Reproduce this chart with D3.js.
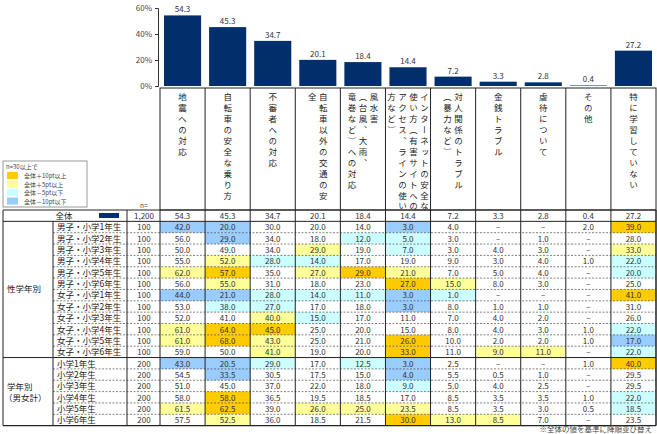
<!DOCTYPE html>
<html><head><meta charset="utf-8">
<script src="https://cdn.jsdelivr.net/npm/d3@7"></script>
<style>body{margin:0;background:#fff}text{font-family:"Noto Sans CJK JP",sans-serif;}</style>
</head><body><svg id="c" width="657" height="434"></svg>
<script>
const headers=[["地震への対応"],["自転車の安全な乗り方"],["不審者への対応"],["自転車以外の交通の安","全"],["風水害","（台風、大雨、","竜巻など）への対応"],["インターネットの安全な","使い方（有害サイトへの","アクセス、ラインの使い","方など）"],["対人関係のトラブル","（暴力など）"],["金銭トラブル"],["虐待について"],["その他"],["特に学習していない"]];
const total=[54.3,45.3,34.7,20.1,18.4,14.4,7.2,3.3,2.8,0.4,27.2];
const rowLabels=["男子・小学1年生","男子・小学2年生","男子・小学3年生","男子・小学4年生","男子・小学5年生","男子・小学6年生","女子・小学1年生","女子・小学2年生","女子・小学3年生","女子・小学4年生","女子・小学5年生","女子・小学6年生","小学1年生","小学2年生","小学3年生","小学4年生","小学5年生","小学6年生"];
const rowN=[100,100,100,100,100,100,100,100,100,100,100,100,200,200,200,200,200,200];
const N=null;
const rows=[
[42,20,30,20,14,3,4,N,N,2,39],
[56,29,34,18,12,5,3,N,1,N,28],
[50,49,34,29,19,7,3,4,3,N,33],
[55,52,28,14,17,19,9,3,4,1,22],
[62,57,35,27,29,21,7,5,4,N,20],
[56,55,31,18,23,27,15,8,3,N,25],
[44,21,28,14,11,3,1,N,N,N,41],
[53,38,27,17,18,3,8,1,1,N,31],
[52,41,40,15,17,11,7,4,2,N,26],
[61,64,45,25,20,15,8,4,3,1,22],
[61,68,43,25,21,26,10,2,2,1,17],
[59,50,41,19,20,33,11,9,11,N,22],
[43,20.5,29,17,12.5,3,2.5,N,N,1,40],
[54.5,33.5,30.5,17.5,15,4,5.5,0.5,1,N,29.5],
[51,45,37,22,18,9,5,4,2.5,N,29.5],
[58,58,36.5,19.5,18.5,17,8.5,3.5,3.5,1,22],
[61.5,62.5,39,26,25,23.5,8.5,3.5,3,0.5,18.5],
[57.5,52.5,36,18.5,21.5,30,13,8.5,7,N,23.5]];
const yTicks=[0,20,40,60];
const legend=["全体＋10pt以上","全体＋5pt以上","全体－5pt以下","全体－10pt以下"];
const legCol=["#ffcc00","#ffff99","#ccffff","#99ccff"];

const svg=d3.select("#c");
const x0=160,x1=656;
const x=d3.scaleBand().domain(d3.range(11)).range([x0,x1]);
const y=d3.scaleLinear().domain([0,60]).range([86,8]);
const ax=svg.append("g").attr("transform","translate(158,0)").call(d3.axisLeft(y).tickValues(yTicks).tickFormat(d=>d+"%").tickSize(3));
ax.selectAll("text").attr("font-size",8).attr("fill","#444").attr("font-family","Arial,Liberation Sans");
ax.select(".domain").attr("stroke","#333");ax.selectAll("line").attr("stroke","#333");
svg.selectAll("rect.bar").data(total).join("rect").attr("x",(d,i)=>x(i)+4).attr("width",x.bandwidth()-8)
 .attr("y",d=>y(d)).attr("height",d=>y(0)-y(d)).attr("fill","#002f6c");
svg.selectAll("text.bl").data(total).join("text").attr("x",(d,i)=>x(i)+x.bandwidth()/2).attr("y",d=>y(d)-3)
 .attr("text-anchor","middle").attr("font-size",8).attr("fill","#333").attr("font-family","Arial,Liberation Sans").text(d=>d.toFixed(1));
const hTop=88,hBot=210;
svg.append("rect").attr("x",x0).attr("y",hTop).attr("width",x1-x0).attr("height",hBot-hTop).attr("fill","none").attr("stroke","#222");
d3.range(1,11).forEach(i=>svg.append("line").attr("x1",x(i)).attr("x2",x(i)).attr("y1",hTop).attr("y2",hBot).attr("stroke","#222"));
headers.forEach((lines,i)=>{
  const n=lines.length,cx=x(i)+x.bandwidth()/2;
  lines.forEach((t,j)=>{
    const xx=cx+((n-1)/2-j)*11;
    svg.append("text").attr("x",xx).attr("y",hTop+5).attr("font-size",8.5).attr("fill","#222")
      .style("writing-mode","vertical-rl").style("letter-spacing","2.4px").text(t);
  });
});
svg.append("rect").attr("x",3).attr("y",161).attr("width",84).attr("height",46).attr("fill","#fff").attr("stroke","#999");
svg.append("text").attr("x",6).attr("y",169).attr("font-size",6).attr("fill","#444").text("n=30以上で");
legend.forEach((t,i)=>{
  svg.append("rect").attr("x",7).attr("y",172+i*8.5).attr("width",11).attr("height",7).attr("fill",legCol[i]);
  svg.append("text").attr("x",24).attr("y",178+i*8.5).attr("font-size",6).attr("fill","#444").text(t);
});
svg.append("text").attr("x",140).attr("y",208).attr("font-size",6.5).attr("fill","#444").text("n=");
const tTop=210,rh=11.35;
const ry=i=>tTop+rh*(i+1);
const f=v=>v==null?"–":v.toFixed(1);
function col(v,t){ if(v==null) return null; const d=v-t; if(d>=10) return legCol[0]; if(d>=5) return legCol[1]; if(d<=-10) return legCol[3]; if(d<=-5) return legCol[2]; return null;}
const fnt="Arial,Liberation Sans";
svg.append("text").attr("x",64).attr("y",tTop+9).attr("font-size",8.5).attr("fill","#222").attr("text-anchor","middle").text("全体");
svg.append("rect").attr("x",99).attr("y",tTop+3).attr("width",20).attr("height",5).attr("fill","#002f6c");
svg.append("text").attr("x",144).attr("y",tTop+9).attr("font-size",8).attr("fill","#333").attr("text-anchor","middle").attr("font-family",fnt).text("1,200");
total.forEach((v,i)=>svg.append("text").attr("x",x(i)+x.bandwidth()/2).attr("y",tTop+9).attr("font-size",8).attr("fill","#333").attr("text-anchor","middle").attr("font-family",fnt).text(v.toFixed(1)));
rows.forEach((r,ri)=>{
  const yy=ry(ri);
  r.forEach((v,i)=>{const c=col(v,total[i]); if(c) svg.append("rect").attr("x",x(i)).attr("y",yy).attr("width",x.bandwidth()).attr("height",rh).attr("fill",c);
    svg.append("text").attr("x",x(i)+x.bandwidth()/2).attr("y",yy+9).attr("font-size",8).attr("fill","#333").attr("text-anchor","middle").attr("font-family",fnt).text(f(v));});
  svg.append("text").attr("x",57).attr("y",yy+9).attr("font-size",8.5).attr("fill","#222").text(rowLabels[ri]);
  svg.append("text").attr("x",144).attr("y",yy+9).attr("font-size",8).attr("fill","#333").attr("text-anchor","middle").attr("font-family",fnt).text(rowN[ri]);
  if(ri>0 && ri!==12) svg.append("line").attr("x1",53).attr("x2",x1).attr("y1",yy).attr("y2",yy).attr("stroke","#333").attr("stroke-width",0.6).attr("stroke-dasharray","2,1.5");
});
const tBot=ry(18);
const L=(a,b,c,d,w)=>svg.append("line").attr("x1",a).attr("y1",b).attr("x2",c).attr("y2",d).attr("stroke","#222").attr("stroke-width",w||1);
L(3,tTop,x1,tTop);L(3,ry(0),x1,ry(0));L(3,ry(12),x1,ry(12));L(3,tBot,x1,tBot,1.2);
L(3,tTop,3,tBot);L(x1,tTop,x1,tBot);L(53,ry(0),53,tBot);L(127,tTop,127,tBot);
d3.range(0,12).forEach(i=>L(x(i)||x1,tTop,x(i)||x1,tBot));
svg.append("text").attr("x",7).attr("y",(ry(0)+ry(12))/2+3).attr("font-size",8.5).attr("fill","#222").text("性学年別");
svg.append("text").attr("x",7).attr("y",(ry(12)+tBot)/2-2).attr("font-size",8.5).attr("fill","#222").text("学年別");
svg.append("text").attr("x",4).attr("y",(ry(12)+tBot)/2+9).attr("font-size",8.5).attr("fill","#222").text("（男女計）");
svg.append("text").attr("x",652).attr("y",432).attr("font-size",7.5).attr("fill","#444").attr("text-anchor","end").text("※全体の値を基準に降順並び替え");
</script></body></html>
